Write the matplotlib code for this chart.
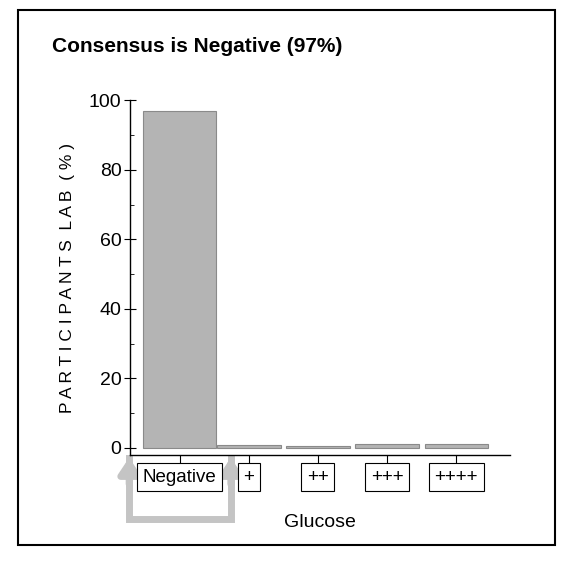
import matplotlib.pyplot as plt
from matplotlib.patches import Rectangle

# Data
categories = ["Negative", "+", "++", "+++", "++++"]
percent = [97, 0.8, 0.5, 1.2, 1.0]
consensus = "Negative"

plt.rcParams['font.family'] = ['Liberation Sans', 'DejaVu Sans']

fig = plt.figure(figsize=(5.67, 5.63), dpi=100)
ax = fig.add_axes([0.229, 0.192, 0.671, 0.63])

x = range(len(categories))
widths = [1.06, 0.92, 0.92, 0.92, 0.92]
ax.bar(x, percent, width=widths, color="#b4b4b4", edgecolor="#8a8a8a", linewidth=0.8)

ax.set_xlim(-0.72, 4.78)
ax.set_ylim(-2, 100)
ax.set_yticks([0, 20, 40, 60, 80, 100])
ax.set_yticks(range(10, 100, 20), minor=True)
ax.set_xticks(list(x))
ax.set_xticklabels(categories)

ax.spines['top'].set_visible(False)
ax.spines['right'].set_visible(False)
ax.spines['left'].set_bounds(-2, 100)
for s in ['left', 'bottom']:
    ax.spines[s].set_linewidth(1.0)

ax.tick_params(axis='y', direction='inout', length=8, width=0.8, labelsize=14, pad=2)
ax.tick_params(axis='y', which='minor', direction='in', length=3, width=0.6)
ax.tick_params(axis='x', direction='out', length=10, width=0.8, labelsize=13.5, pad=0)
for lbl in ax.get_xticklabels():
    lbl.set_bbox(dict(boxstyle='square,pad=0.3', fc='white', ec='black', lw=0.8))
    lbl.set_verticalalignment('top')

ax.set_ylabel("P A R T I C I P A N T S  L A B  ( % )", fontsize=12.5, labelpad=10)
ax.set_xlabel("Glucose", fontsize=14, labelpad=20)

# consensus marker: gray U-shaped double arrow under the consensus category
tr = ax.get_xaxis_transform()
ci = categories.index(consensus)
left, right = ci - 0.73, ci + 0.74
gray = "#c4c4c4"
ax.plot([left, left, right, right], [-0.01, -0.18, -0.18, -0.01], color=gray, lw=5,
        transform=tr, clip_on=False, solid_joinstyle='miter', zorder=1)
for xx in (left, right):
    ax.annotate('', xy=(xx, 0.0), xytext=(xx, -0.09), xycoords=tr, textcoords=tr,
                arrowprops=dict(arrowstyle='-|>,head_length=0.9,head_width=0.6',
                                color=gray, lw=5), annotation_clip=False, zorder=1)

fig.text(0.092, 0.918, "Consensus is Negative (97%)", fontsize=15, fontweight='bold',
         ha='left', va='center')

fig.patches.append(Rectangle((0.032, 0.032), 0.947, 0.95, transform=fig.transFigure,
                             fill=False, ec='black', lw=1.5))

fig.savefig("out.png", dpi=100, facecolor='white')
